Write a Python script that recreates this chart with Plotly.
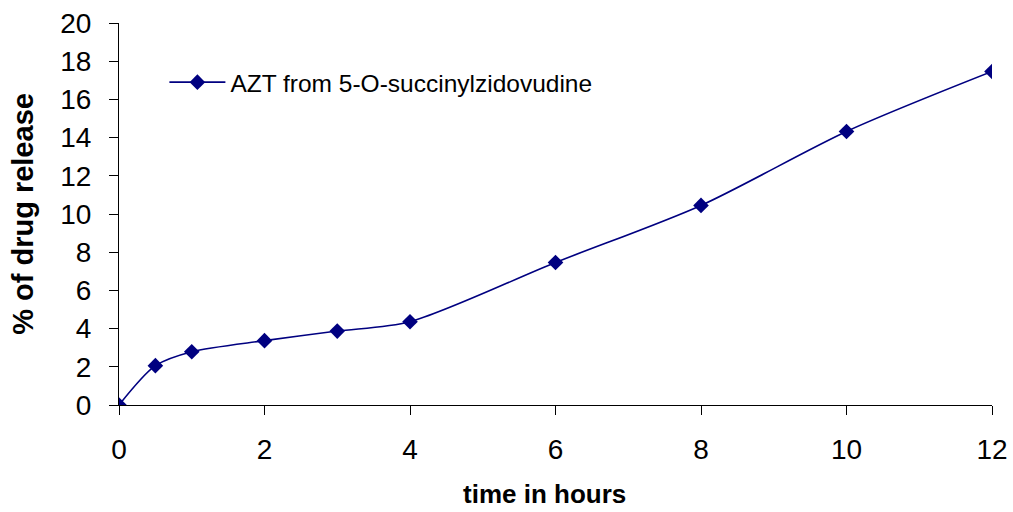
import plotly.graph_objects as go

# Release profile of AZT from 5-O-succinylzidovudine
hours = [0, 0.5, 1, 2, 3, 4, 6, 8, 10, 12]
release_pct = [0, 2.06, 2.79, 3.37, 3.87, 4.36, 7.46, 10.45, 14.32, 17.46]
series_name = "AZT from 5-O-succinylzidovudine"

x_ticks = [0, 2, 4, 6, 8, 10, 12]
y_ticks = [0, 2, 4, 6, 8, 10, 12, 14, 16, 18, 20]

NAVY = "#000080"
FONT = "Liberation Sans, Arial, sans-serif"

fig = go.Figure()
fig.add_trace(go.Scatter(
    x=hours, y=release_pct, name=series_name,
    mode="lines+markers",
    line=dict(color=NAVY, width=1.6, shape="spline", smoothing=0.8),
    marker=dict(symbol="diamond", size=12, color=NAVY),
))

fig.update_layout(
    width=1013, height=512,
    margin=dict(l=119, r=21, t=23, b=107),
    paper_bgcolor="white", plot_bgcolor="white",
    font=dict(family=FONT, color="black"),
    showlegend=True,
    legend=dict(x=0.052, y=0.845, xanchor="left", yanchor="middle",
                itemwidth=56,
                bgcolor="rgba(0,0,0,0)", font=dict(size=24.5, family=FONT)),
    xaxis=dict(
        range=[0, 12], tickvals=x_ticks, showgrid=False, zeroline=False,
        showline=True, linecolor="black", linewidth=1, automargin=False,
        ticks="outside", ticklen=9, tickcolor="black",
        tickfont=dict(size=28), ticklabelstandoff=10,
    ),
    yaxis=dict(
        range=[0, 20], tickvals=y_ticks, showgrid=False, zeroline=False,
        showline=True, linecolor="black", linewidth=1, automargin=False,
        ticks="outside", ticklen=9, tickcolor="black",
        tickfont=dict(size=28), ticklabelstandoff=12,
        title=dict(text="<b>% of drug release</b>", standoff=18,
                   font=dict(size=29)),
    ),
    annotations=[dict(
        text="<b>time in hours</b>", xref="paper", yref="paper",
        x=0.487, y=-0.233, xanchor="center", yanchor="middle",
        showarrow=False, font=dict(size=26, family=FONT),
    )],
)

fig.write_html("out.html")
